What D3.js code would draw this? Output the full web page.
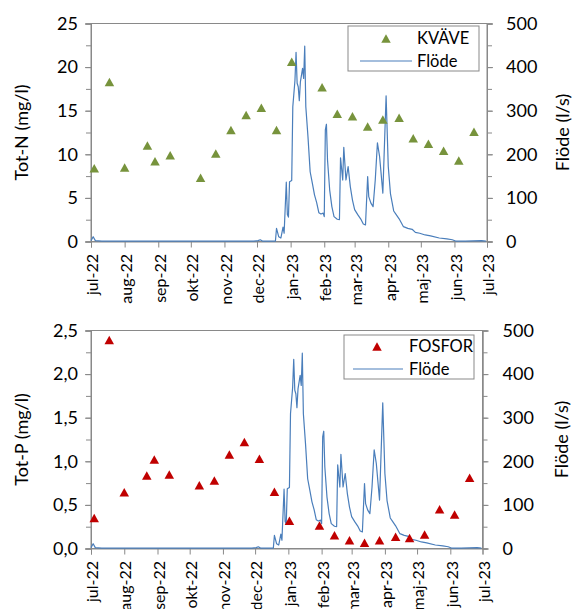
<!DOCTYPE html>
<html><head><meta charset="utf-8">
<script src="https://cdn.jsdelivr.net/npm/d3@7"></script>
<style>
body{margin:0;background:#fff}
svg{display:block}
text{font-family:Lato,'Open Sans',sans-serif;fill:#000}
</style>
</head><body>
<svg id="c" width="572" height="609"></svg>
<script>
// ---------- data ----------
const sampleDates = ["2022-07-04","2022-07-18","2022-08-01","2022-08-22","2022-08-29","2022-09-12",
  "2022-10-10","2022-10-24","2022-11-07","2022-11-21","2022-12-05","2022-12-19",
  "2023-01-02","2023-01-30","2023-02-13","2023-02-27","2023-03-13","2023-03-27",
  "2023-04-11","2023-04-24","2023-05-08","2023-05-22","2023-06-05","2023-06-19"];
const totN = [8.4,18.3,8.5,11.0,9.2,9.9,7.3,10.1,12.8,14.5,15.35,12.8,
  20.6,17.7,14.65,14.35,13.2,14.0,14.2,11.85,11.2,10.4,9.3,12.6];
const totP = [0.35,2.39,0.645,0.836,1.02,0.85,0.725,0.78,1.077,1.22,1.03,0.65,
  0.317,0.263,0.153,0.095,0.065,0.095,0.134,0.12,0.16,0.45,0.39,0.81];

const flowDates = ["2022-07-01","2022-07-03","2022-07-05","2022-07-11","2022-07-31","2022-08-30",
  "2022-09-29","2022-10-29","2022-11-28","2022-12-02","2022-12-04","2022-12-06","2022-12-18",
  "2022-12-19","2022-12-21","2022-12-23","2022-12-25","2022-12-26","2022-12-28","2022-12-29",
  "2022-12-30","2022-12-31","2023-01-02","2023-01-03","2023-01-05","2023-01-06","2023-01-07",
  "2023-01-08","2023-01-09","2023-01-10","2023-01-12","2023-01-13","2023-01-14","2023-01-15",
  "2023-01-17","2023-01-19","2023-01-21","2023-01-23","2023-01-25","2023-01-27","2023-01-29",
  "2023-01-31","2023-02-01","2023-02-02","2023-02-03","2023-02-04","2023-02-06","2023-02-08",
  "2023-02-10","2023-02-13","2023-02-15","2023-02-16","2023-02-18","2023-02-19","2023-02-21",
  "2023-02-23","2023-02-25","2023-02-27","2023-03-01","2023-03-04","2023-03-07","2023-03-09",
  "2023-03-11","2023-03-13","2023-03-14","2023-03-16","2023-03-18","2023-03-20","2023-03-22",
  "2023-03-24","2023-03-27","2023-03-30","2023-04-01","2023-04-03","2023-04-06","2023-04-08",
  "2023-04-11","2023-04-15","2023-04-19","2023-04-23","2023-04-26","2023-04-30","2023-05-05",
  "2023-05-10","2023-05-18","2023-05-25","2023-05-30","2023-06-02","2023-06-11","2023-06-26",
  "2023-06-30"];
const flowValues = [2,11,2,1,1,1,
  1,1,1,2,4,1,1,
  30,11,8,33,19,136,62,
  56,137,140,309,370,434,363,
  355,323,366,397,374,448,309,
  240,160,134,107,89,66,63,
  65,57,256,269,187,118,80,
  57,51,50,192,141,216,141,
  172,126,95,73,61,50,40,
  38,149,103,88,80,141,226,
  195,111,334,172,110,70,63,
  52,34,30,28,21,19,15,
  13,8,6,4,1,1,2,
  1];

const monthTicks = ["2022-07-01","2022-08-01","2022-09-01","2022-10-01","2022-11-01","2022-12-01",
  "2023-01-01","2023-02-01","2023-03-01","2023-04-01","2023-05-01","2023-06-01","2023-07-01"];
const monthLabels = ["jul-22","aug-22","sep-22","okt-22","nov-22","dec-22",
  "jan-23","feb-23","mar-23","apr-23","maj-23","jun-23","jul-23"];
const nTicks = [0,5,10,15,20,25];
const nTickLabels = ["0","5","10","15","20","25"];
const pTicks = [0,0.5,1,1.5,2,2.5];
const pTickLabels = ["0,0","0,5","1,0","1,5","2,0","2,5"];
const flowTicks = [0,100,200,300,400,500];
const flowTickLabels = ["0","100","200","300","400","500"];

// ---------- drawing ----------
const parse = d3.timeParse("%Y-%m-%d");
const svg = d3.select("#c");
svg.append("rect").attr("width",572).attr("height",609).attr("fill","#fff");
const AX = "#898989";
const LINE = "#4a7ebb";

function tri(w,h){ return `M0,${-h/2}L${w/2},${h/2}L${-w/2},${h/2}Z`; }

function panel(cfg){
  const g = svg.append("g");
  const x = d3.scaleTime().domain([parse(monthTicks[0]), parse(monthTicks[monthTicks.length-1])]).range([cfg.left,cfg.right]);
  const yL = d3.scaleLinear().domain([0,cfg.lMax]).range([cfg.bottom,cfg.top]);
  const yR = d3.scaleLinear().domain([0,500]).range([cfg.bottom,cfg.top]);

  // plot border
  g.append("rect").attr("x",cfg.left).attr("y",cfg.top).attr("width",cfg.right-cfg.left)
    .attr("height",cfg.bottom-cfg.top).attr("fill","none").attr("stroke",AX).attr("stroke-width",1);

  // left axis
  const minorL = d3.range(0, cfg.lMax+1e-9, cfg.lMax/10);
  const la = g.append("g").attr("transform",`translate(${cfg.left},0)`)
    .call(d3.axisLeft(yL).tickValues(minorL).tickSize(5).tickFormat(""));
  const la2 = g.append("g").attr("transform",`translate(${cfg.left},0)`)
    .call(d3.axisLeft(yL).tickValues(cfg.lTicks).tickSize(6).tickPadding(7)
      .tickFormat((d,i)=>cfg.lLabels[i]));
  // right axis
  const ra = g.append("g").attr("transform",`translate(${cfg.right},0)`)
    .call(d3.axisRight(yR).tickValues(d3.range(0,501,50)).tickSize(5).tickFormat(""));
  const ra2 = g.append("g").attr("transform",`translate(${cfg.right},0)`)
    .call(d3.axisRight(yR).tickValues(flowTicks).tickSize(6).tickPadding(cfg.rPad)
      .tickFormat((d,i)=>flowTickLabels[i]));
  // x axis
  const xa = g.append("g").attr("transform",`translate(0,${cfg.bottom})`)
    .call(d3.axisBottom(x).tickValues(monthTicks.map(parse)).tickSize(6)
      .tickFormat((d,i)=>monthLabels[i]));
  xa.selectAll("text").attr("transform","rotate(-90)").attr("text-anchor","end")
    .attr("x",-12.5).attr("y",0).attr("dy","0.42em").style("font-size","16px");

  [la,la2,ra,ra2,xa].forEach(a=>{
    a.select(".domain").attr("stroke",AX);
    a.selectAll(".tick line").attr("stroke",AX);
  });
  [la2,ra2].forEach(a=>a.selectAll("text").style("font-size","18px"));

  // axis titles
  g.append("text").attr("transform",`translate(${cfg.ltx},${(cfg.top+cfg.bottom)/2}) rotate(-90)`)
    .attr("text-anchor","middle").attr("dy","0.35em").style("font-size","18px").text(cfg.lTitle);
  g.append("text").attr("transform",`translate(${cfg.rtx},${(cfg.top+cfg.bottom)/2}) rotate(-90)`)
    .attr("text-anchor","middle").attr("dy","0.35em").style("font-size","18px").text("Flöde (l/s)");

  // flow line
  const flow = flowDates.map((d,i)=>({d:parse(d),v:flowValues[i]}));
  g.append("path").datum(flow).attr("fill","none").attr("stroke",LINE).attr("stroke-width",1.2)
    .attr("stroke-linejoin","round")
    .attr("d",d3.line().x(p=>x(p.d)).y(p=>yR(p.v)));

  // markers
  g.selectAll(".m").data(sampleDates.map((d,i)=>({d:parse(d),v:cfg.values[i]}))).join("path")
    .attr("d",tri(9.5,8.5)).attr("fill",cfg.color)
    .attr("transform",p=>`translate(${x(p.d)},${yL(p.v)})`);

  // legend
  const L = cfg.leg;
  g.append("rect").attr("x",L.x).attr("y",L.y).attr("width",L.w).attr("height",L.h)
    .attr("fill","#fff").attr("stroke",AX).attr("stroke-width",1);
  g.append("path").attr("d",tri(9.5,8.5)).attr("fill",cfg.color)
    .attr("transform",`translate(${L.mx},${L.y1})`);
  g.append("text").attr("x",L.tx).attr("y",L.y1).attr("dy","0.35em").style("font-size","16.5px").text(cfg.name);
  g.append("line").attr("x1",L.lx1).attr("x2",L.lx2).attr("y1",L.y2).attr("y2",L.y2)
    .attr("stroke",LINE).attr("stroke-width",1.2);
  g.append("text").attr("x",L.tx).attr("y",L.y2).attr("dy","0.35em").style("font-size","16.5px").text("Flöde");
}

panel({left:91,right:487,top:23.5,bottom:241.5,lMax:25,lTicks:nTicks,lLabels:nTickLabels,
  rPad:13,ltx:21.5,rtx:563,lTitle:"Tot-N (mg/l)",values:totN,color:"#77933c",name:"KVÄVE",
  leg:{x:348,y:26,w:131,h:45,mx:386,y1:38.5,tx:417,lx1:360,lx2:412,y2:61}});
panel({left:91,right:482.5,top:330.5,bottom:548.5,lMax:2.5,lTicks:pTicks,lLabels:pTickLabels,
  rPad:14,ltx:21.5,rtx:562,lTitle:"Tot-P (mg/l)",values:totP,color:"#c00000",name:"FOSFOR",
  leg:{x:344,y:335,w:130,h:44,mx:377,y1:346.5,tx:409,lx1:353,lx2:403,y2:369}});
</script>
</body></html>
